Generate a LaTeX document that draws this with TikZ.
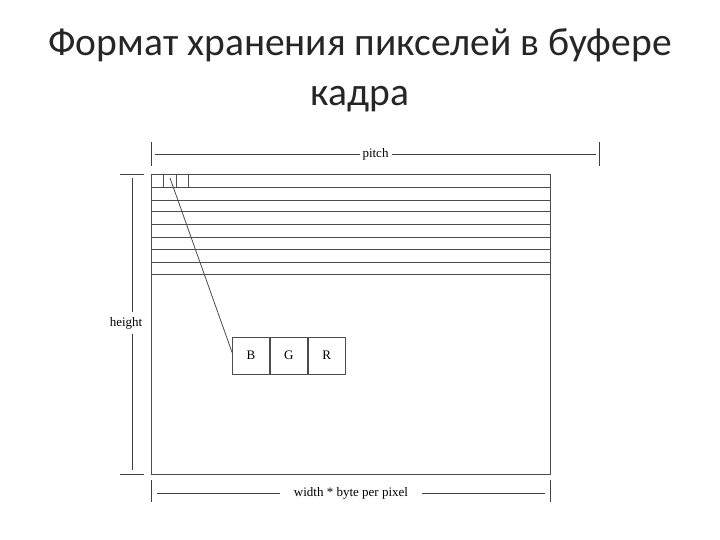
\documentclass[tikz,border=0pt]{standalone}
\usepackage{fontspec}
\setmainfont{Liberation Serif}
\newfontfamily\titlefont{Carlito}
\usetikzlibrary{positioning}

\tikzset{
  frameline/.style={draw=black!70, line width=0.8pt},
  dimline/.style={draw=black!75, line width=0.7pt},
  cellbox/.style={draw=black!70, line width=0.8pt, minimum width=37pt, minimum height=37pt, inner sep=0pt, font=\fontsize{13}{15}\selectfont},
  dimlabel/.style={fill=white, inner sep=2pt, font=\fontsize{13}{15}\selectfont},
}

\begin{document}
\begin{tikzpicture}[x=1pt,y=-1pt]
    \useasboundingbox (0,0) rectangle (720,540);

    % заголовок
    \node[font=\titlefont\fontsize{39.5}{50}\selectfont, align=center, text=black!85] (title) at (360,70)
        {Формат хранения пикселей в буфере\\кадра};

    % буфер кадра
    \draw[frameline] (151,174) rectangle (550,474);
    \foreach \y in {187.3,200,211.7,224.7,237.3,249.3,262.3,274.7}
        \draw[frameline] (151,\y) -- (550,\y);

    % пиксели в первой строке
    \draw[frameline] (163.5,174) -- (163.5,187.3);
    \draw[frameline] (176,174) -- (176,187.3);
    \draw[frameline] (188.3,174) -- (188.3,187.3);
    \coordinate (px) at (170,178);

    % один пиксель: B G R
    \node[cellbox] (B) at (251,355.5) {B};
    \node[cellbox, right=0pt of B] (G) {G};
    \node[cellbox, right=0pt of G] (R) {R};
    \draw[frameline] (px) -- ([yshift=3pt]B.west);

    % pitch
    \draw[dimline] (151,142) -- (151,166);
    \draw[dimline] (599,142) -- (599,166);
    \coordinate (pl) at (155,154.5);
    \coordinate (pr) at (596,154.5);
    \draw[dimline] (pl) -- (pr) node[dimlabel, midway, inner xsep=3pt] (pitch) {pitch};

    % height
    \draw[dimline] (120,174) -- (144,174);
    \draw[dimline] (120,474) -- (144,474);
    \coordinate (ht) at (132.3,178);
    \coordinate (hb) at (132.3,470);
    \draw[dimline] (ht) -- (hb);
    \node[dimlabel, inner ysep=5pt] (height) at (126,323) {height};

    % width * byte per pixel
    \draw[dimline] (151,480) -- (151,502);
    \draw[dimline] (550,480) -- (550,502);
    \coordinate (wl) at (157,493);
    \coordinate (wr) at (545,493);
    \draw[dimline] (wl) -- (wr) node[dimlabel, midway, inner xsep=14pt] (wlabel) {width * byte per pixel};

\end{tikzpicture}
\end{document}
